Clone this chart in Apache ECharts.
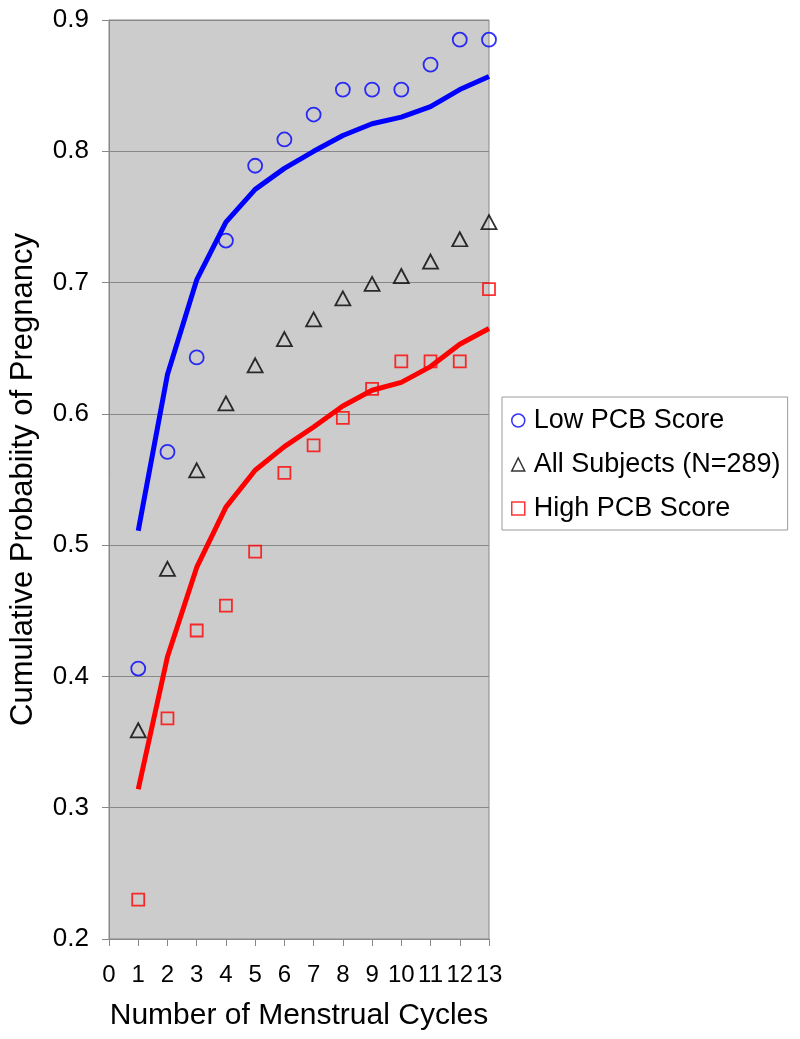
<!DOCTYPE html>
<html>
<head>
<meta charset="utf-8">
<title>Cumulative Probability of Pregnancy</title>
<script src="https://cdn.jsdelivr.net/npm/echarts@6/dist/echarts.min.js"></script>
<style>
  html, body { margin: 0; padding: 0; background: #fff; }
  #chart { width: 800px; height: 1039px; }
</style>
</head>
<body>
<div id="chart"></div>
<script>
// menstrual cycle number
var cycles = [1, 2, 3, 4, 5, 6, 7, 8, 9, 10, 11, 12, 13];

// observed points
var lowObs  = [0.406, 0.571, 0.643, 0.732, 0.789, 0.809, 0.828, 0.847, 0.847, 0.847, 0.866, 0.885, 0.885];
var allObs  = [0.359, 0.482, 0.557, 0.608, 0.637, 0.657, 0.672, 0.688, 0.699, 0.705, 0.716, 0.733, 0.746];
var highObs = [0.230, 0.368, 0.435, 0.454, 0.495, 0.555, 0.576, 0.597, 0.619, 0.640, 0.640, 0.640, 0.695];

// fitted curves
var lowFit  = [0.511, 0.630, 0.702, 0.746, 0.771, 0.787, 0.800, 0.812, 0.821, 0.826, 0.834, 0.847, 0.857];
var highFit = [0.314, 0.415, 0.483, 0.529, 0.557, 0.575, 0.590, 0.606, 0.618, 0.624, 0.636, 0.653, 0.665];

var yTicks = ['0.2', '0.3', '0.4', '0.5', '0.6', '0.7', '0.8', '0.9'];

function pairs(ys) {
  return cycles.map(function (c, i) { return [c, ys[i]]; });
}

var FONT = '"Liberation Sans", Arial, sans-serif';

var chart = echarts.init(document.getElementById('chart'));

var option = {
  animation: false,
  backgroundColor: '#ffffff',
  grid: {
    left: 109,
    right: 311,
    top: 20,
    bottom: 100,
    show: true,
    backgroundColor: '#cccccc',
    borderColor: '#888888',
    borderWidth: 1
  },
  legend: {
    orient: 'vertical',
    left: 502,
    top: 397,
    backgroundColor: '#ffffff',
    borderColor: '#9a9a9a',
    borderWidth: 1,
    padding: [10, 7, 8, 9],
    itemGap: 17,
    itemWidth: 13,
    itemHeight: 13,
    textStyle: {
      fontFamily: FONT,
      fontSize: 27,
      color: '#000',
      lineHeight: 26,
      padding: [0, 0, 0, 4]
    },
    data: [
      {name: 'Low PCB Score', icon: 'circle',
        itemStyle: {color: 'transparent', borderColor: '#0000ff', borderWidth: 1.5}},
      {name: 'All Subjects (N=289)', icon: 'triangle',
        itemStyle: {color: 'transparent', borderColor: '#000000', borderWidth: 1.5}},
      {name: 'High PCB Score', icon: 'rect',
        itemStyle: {color: 'transparent', borderColor: '#ff0000', borderWidth: 1.5}}
    ]
  },
  xAxis: {
    type: 'value',
    min: 0,
    max: 13,
    interval: 1,
    name: 'Number of Menstrual Cycles',
    nameLocation: 'middle',
    nameGap: 62,
    nameTextStyle: {fontFamily: FONT, fontSize: 30, color: '#000'},
    axisLine: {lineStyle: {color: '#888888', width: 1}},
    axisTick: {show: true, length: 7, lineStyle: {color: '#888888'}},
    axisLabel: {fontFamily: FONT, fontSize: 24, color: '#000', margin: 24},
    splitLine: {show: false}
  },
  yAxis: {
    type: 'value',
    min: 0.2,
    max: 0.9,
    interval: 0.1,
    name: 'Cumulative Probabiity of Pregnancy',
    nameLocation: 'middle',
    nameGap: 70,
    nameTextStyle: {fontFamily: FONT, fontSize: 31, color: '#000'},
    axisLine: {show: true, lineStyle: {color: '#888888', width: 1}},
    axisTick: {show: true, length: 7, lineStyle: {color: '#888888'}},
    axisLabel: {
      fontFamily: FONT, fontSize: 26, color: '#000', margin: 20,
      formatter: function (v) {
        var s = v.toFixed(1);
        return yTicks.indexOf(s) >= 0 ? s : '';
      }
    },
    splitLine: {show: true, lineStyle: {color: '#888888', width: 1}}
  },
  series: [
    {
      name: 'Low fit', type: 'line', data: pairs(lowFit),
      showSymbol: false, symbol: 'none', silent: true,
      lineStyle: {color: '#0000ff', width: 5},
      itemStyle: {color: '#0000ff'}, z: 2
    },
    {
      name: 'High fit', type: 'line', data: pairs(highFit),
      showSymbol: false, symbol: 'none', silent: true,
      lineStyle: {color: '#ff0000', width: 5},
      itemStyle: {color: '#ff0000'}, z: 2
    },
    {
      name: 'Low PCB Score', type: 'scatter', data: pairs(lowObs),
      symbol: 'circle', symbolSize: 14,
      itemStyle: {color: 'transparent', borderColor: '#0000ff', borderWidth: 1.8}, z: 3
    },
    {
      name: 'All Subjects (N=289)', type: 'scatter', data: pairs(allObs),
      symbol: 'triangle', symbolSize: [15, 14],
      itemStyle: {color: 'transparent', borderColor: '#000000', borderWidth: 1.8}, z: 3
    },
    {
      name: 'High PCB Score', type: 'scatter', data: pairs(highObs),
      symbol: 'rect', symbolSize: 12,
      itemStyle: {color: 'transparent', borderColor: '#ff0000', borderWidth: 1.8}, z: 3
    }
  ]
};

chart.setOption(option);
</script>
</body>
</html>
